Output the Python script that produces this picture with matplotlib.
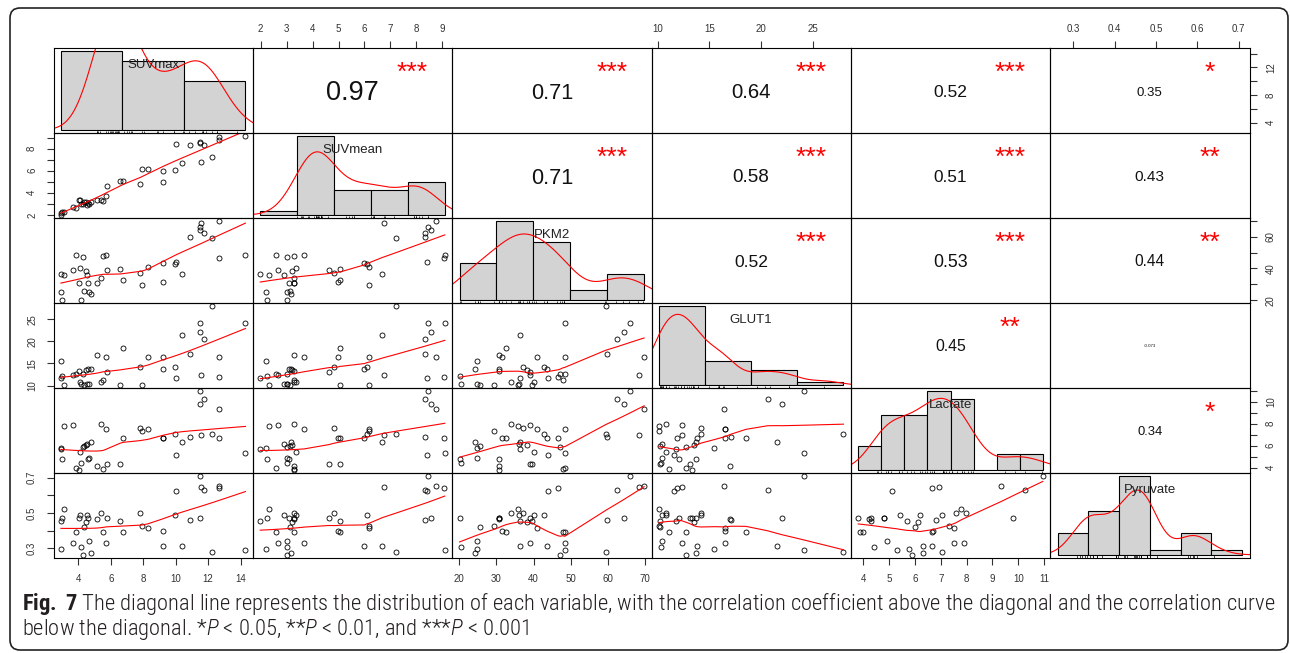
import numpy as np
import matplotlib
matplotlib.use("Agg")
import matplotlib.pyplot as plt
from matplotlib import font_manager
from matplotlib.patches import FancyBboxPatch
from matplotlib.transforms import IdentityTransform

NAMES = ["SUVmax", "SUVmean", "PKM2", "GLUT1", "Lactate", "Pyruvate"]

# one entry per sample
SUVMAX = [2.92, 2.93, 3.01, 3.14, 3.69, 3.84, 4.02, 4.10, 4.15, 4.27,
          4.37, 4.45, 4.55, 4.62, 4.68, 4.76, 5.13, 5.38, 5.52, 5.71,
          5.75, 6.59, 6.77, 7.82, 7.91, 8.28, 9.20, 9.22, 9.96, 10.00,
          10.39, 10.90, 11.48, 11.52, 11.58, 11.76, 12.26, 12.65, 12.69, 14.30]
SUVMEAN = [1.98, 2.20, 2.25, 2.30, 2.67, 2.60, 3.30, 3.37, 3.00, 3.00,
           3.13, 3.20, 2.90, 3.10, 3.00, 3.15, 3.30, 3.30, 3.27, 3.68,
           4.63, 5.06, 5.06, 4.81, 6.19, 6.19, 6.00, 4.97, 6.10, 8.43,
           6.68, 8.34, 8.46, 8.58, 6.74, 8.34, 7.23, 9.07, 8.76, 9.10]
PKM2 = [36.4, 24.9, 20.1, 35.8, 38.9, 48.4, 30.7, 40.2, 20.4, 47.2,
        25.5, 38.3, 36.0, 30.7, 24.9, 24.2, 30.7, 33.9, 47.8, 48.4,
        38.9, 39.6, 32.6, 37.1, 29.3, 40.8, 43.6, 31.4, 42.9, 43.8,
        36.4, 59.8, 65.9, 64.2, 68.4, 62.5, 59.4, 46.5, 69.7, 48.4]
GLUT1 = [11.75, 15.45, 12.1, 10.15, 12.4, 12.7, 13.3, 10.8, 10.35, 12.7,
         10.2, 13.5, 10.4, 13.7, 10.4, 13.7, 17.0, 10.8, 11.15, 16.5,
         13.1, 10.2, 18.5, 14.2, 10.13, 16.5, 13.8, 16.5, 14.2, 11.6,
         21.5, 17.1, 24.1, 22.0, 12.4, 20.6, 27.9, 11.9, 16.4, 24.1]
LACTATE = [5.68, 5.75, 4.78, 7.78, 7.9, 3.98, 3.8, 5.41, 4.4, 5.9,
           6.0, 6.1, 6.2, 4.78, 4.9, 6.3, 4.2, 7.97, 3.85, 7.5,
           4.3, 4.3, 6.67, 7.6, 7.3, 7.5, 6.67, 6.7, 7.06, 5.12,
           6.3, 6.8, 10.95, 9.8, 6.94, 10.25, 7.06, 6.67, 9.35, 5.3]
PYRUVATE = [0.452, 0.296, 0.471, 0.522, 0.327, 0.391, 0.471, 0.49, 0.305, 0.262,
            0.42, 0.45, 0.49, 0.47, 0.343, 0.273, 0.464, 0.499, 0.391, 0.327,
            0.471, 0.456, 0.391, 0.499, 0.425, 0.417, 0.315, 0.397, 0.49, 0.623,
            0.315, 0.458, 0.708, 0.47, 0.645, 0.631, 0.278, 0.639, 0.654, 0.29]

# histogram breaks seen on the diagonal
SUVMAX_BREAKS = [0, 5, 10, 15]
SUVMEAN_BREAKS = [0, 2, 4, 6, 8, 10]
PKM2_BREAKS = [20, 30, 40, 50, 60, 70]
GLUT1_BREAKS = [10, 15, 20, 25, 30]
LACTATE_BREAKS = [3, 4, 5, 6, 7, 8, 9, 10, 11]
PYRUVATE_BREAKS = [0.2, 0.3, 0.4, 0.5, 0.6, 0.7, 0.8]

SUVMAX_TICKS = [4, 6, 8, 10, 12, 14]
SUVMEAN_TICKS = [2, 3, 4, 5, 6, 7, 8, 9]
PKM2_TICKS = [20, 30, 40, 50, 60, 70]
GLUT1_TICKS = [10, 15, 20, 25]
LACTATE_TICKS = [4, 5, 6, 7, 8, 9, 10, 11]
PYRUVATE_TICKS = [0.3, 0.4, 0.5, 0.6, 0.7]
# labels R kept on the vertical axes
SUVMAX_YLABELS = [4, 8, 12]
SUVMEAN_YLABELS = [2, 4, 6, 8]
PKM2_YLABELS = [20, 40, 60]
GLUT1_YLABELS = [10, 15, 20, 25]
LACTATE_YLABELS = [4, 6, 8, 10]
PYRUVATE_YLABELS = [0.3, 0.5, 0.7]

# upper triangle, row by row
COR_VALUES = [0.97, 0.71, 0.64, 0.52, 0.35,
              0.71, 0.58, 0.51, 0.43,
              0.52, 0.53, 0.44,
              0.45, -0.073,
              0.34]
COR_STARS = ["***", "***", "***", "***", "*",
             "***", "***", "***", "**",
             "***", "***", "**",
             "**", "",
             "*"]

CAPTION_LINE1 = (r"$\mathbf{Fig.\ 7}$ The diagonal line represents the distribution of each variable, "
                 r"with the correlation coefficient above the diagonal and the correlation curve")
CAPTION_LINE2 = r"below the diagonal. *$P$ < 0.05, **$P$ < 0.01, and ***$P$ < 0.001"

available = {f.name for f in font_manager.fontManager.ttflist}
CAP_FONT = next((f for f in ["Roboto Condensed", "Liberation Sans Narrow", "Open Sans"]
                 if f in available), "DejaVu Sans")

plt.rcParams['font.family'] = ['Liberation Sans', 'DejaVu Sans']
plt.rcParams['mathtext.fontset'] = 'custom'
plt.rcParams['mathtext.rm'] = CAP_FONT
plt.rcParams['mathtext.it'] = CAP_FONT + ':italic:light'
plt.rcParams['mathtext.bf'] = CAP_FONT + ':bold'


def lowess(x, y, f=2 / 3, iters=3):
    # same steps as R's clowess (no delta shortcut)
    o = np.argsort(x, kind='stable')
    x = np.asarray(x, float)[o]
    y = np.asarray(y, float)[o]
    n = len(x)
    ns = max(min(int(f * n + 1e-7), n), 2)
    rw = np.ones(n)
    fit = np.zeros(n)
    xr = x[-1] - x[0]
    for it in range(iters + 1):
        nleft, nright = 0, ns - 1
        for i in range(n):
            while nright < n - 1 and x[i] - x[nleft] > x[nright + 1] - x[i]:
                nleft += 1
                nright += 1
            h = max(x[i] - x[nleft], x[nright] - x[i])
            d = np.abs(x - x[i])
            if h > 0:
                w = np.where(d <= 0.001 * h, 1.0, (1 - (d / h) ** 3) ** 3)
                w[d > 0.999 * h] = 0.0
            else:
                w = (d == 0).astype(float)
            w = w * rw
            if w.sum() <= 0:
                fit[i] = y[i]
                continue
            w = w / w.sum()
            if h > 0:
                a = np.sum(w * x)
                c = np.sum(w * (x - a) ** 2)
                if np.sqrt(c) > 0.001 * xr:
                    w = w * ((x[i] - a) / c * (x - a) + 1)
            fit[i] = np.sum(w * y)
        if it == iters:
            break
        res = np.abs(y - fit)
        cmad = 6 * np.median(res)
        if cmad < 1e-7 * np.mean(np.abs(y)):
            break
        u = res / cmad
        rw = np.where(u <= 0.001, 1.0, np.where(u > 0.999, 0.0, (1 - u ** 2) ** 2))
    return x, fit


def density(v):
    n = len(v)
    q75, q25 = np.percentile(v, [75, 25])
    bw = 0.9 * min(v.std(ddof=1), (q75 - q25) / 1.34) * n ** -0.2
    grid = np.linspace(v.min() - 3 * bw, v.max() + 3 * bw, 512)
    dens = np.exp(-0.5 * ((grid[:, None] - v[None, :]) / bw) ** 2).sum(1)
    return grid, dens / (n * bw * np.sqrt(2 * np.pi))


def span(v):
    d = 0.04 * (v.max() - v.min())
    return v.min() - d, v.max() + d


def fmt(t):
    return f"{t:g}"


values = [np.array(v, float) for v in (SUVMAX, SUVMEAN, PKM2, GLUT1, LACTATE, PYRUVATE)]
breaks = [SUVMAX_BREAKS, SUVMEAN_BREAKS, PKM2_BREAKS, GLUT1_BREAKS, LACTATE_BREAKS, PYRUVATE_BREAKS]
ticks = [SUVMAX_TICKS, SUVMEAN_TICKS, PKM2_TICKS, GLUT1_TICKS, LACTATE_TICKS, PYRUVATE_TICKS]
ylabeled = [SUVMAX_YLABELS, SUVMEAN_YLABELS, PKM2_YLABELS, GLUT1_YLABELS, LACTATE_YLABELS, PYRUVATE_YLABELS]

W, H = 1290, 653
fig = plt.figure(figsize=(W / 100, H / 100), dpi=100)
fig.patch.set_facecolor('white')

GX0, GX1, GY0, GY1 = 53.5, 1249.5, 48.3, 558.0
CW = (GX1 - GX0) / 6
RH = (GY1 - GY0) / 6

tick_kw = dict(direction='out', length=4.8, width=0.8, labelsize=7,
               labelcolor='#333333', color='#333333')

k = 0
for i in range(6):
    for j in range(6):
        ax = fig.add_axes([(GX0 + j * CW) / W, 1 - (GY0 + (i + 1) * RH) / H, CW / W, RH / H])
        ax.set_facecolor('none')
        for s in ax.spines.values():
            s.set_linewidth(0.8)
        ax.tick_params(which='both', bottom=False, top=False, left=False, right=False,
                       labelbottom=False, labeltop=False, labelleft=False, labelright=False)

        if i == j:
            v = values[i]
            b = np.array(breaks[i], float)
            idx = np.clip(np.searchsorted(b, v, side='left') - 1, 0, len(b) - 2)
            counts = np.bincount(idx, minlength=len(b) - 1)
            dens = counts / (len(v) * np.diff(b))
            ax.bar(b[:-1], dens, width=np.diff(b), align='edge', color='#D3D3D3',
                   edgecolor='black', linewidth=0.8)
            gx, gy = density(v)
            ax.plot(gx, gy, color='red', lw=0.8)
            ax.vlines(v, 0, 0.03, transform=ax.get_xaxis_transform(), colors='black', lw=0.5)
            pad = 0.04 * (b[-1] - b[0])
            ax.set_xlim(b[0] - pad, b[-1] + pad)
            ax.set_ylim(-0.04 * dens.max(), 1.04 * dens.max())
            ax.text(0.5, 0.80, NAMES[i], transform=ax.transAxes, ha='center', va='center',
                    fontsize=9.5, color='#222222')
        else:
            ax.set_xlim(span(values[j]))
            ax.set_ylim(span(values[i]))
            if i > j:
                ax.plot(values[j], values[i], 'o', mfc='none', mec='black', ms=3.6, mew=0.6)
                lx, ly = lowess(values[j], values[i])
                ax.plot(lx, ly, color='red', lw=0.8)
            else:
                r = COR_VALUES[k]
                fs = 19.5 * (abs(r) / 0.97) ** 0.7
                cap = 0.716 * fs * 100 / 72 / RH
                ax.text(0.5, 0.5 - cap / 2, format(r, '.2g'), transform=ax.transAxes,
                        ha='center', va='baseline', fontsize=fs, color='#111111')
                ax.text(0.8, 0.63, COR_STARS[k], transform=ax.transAxes, ha='center',
                        va='baseline', fontsize=19, color='red')
                k += 1

        if (i == 0 and j % 2 == 1) or (i == 5 and j % 2 == 0):
            ax.set_xticks(ticks[j])
            ax.set_xticklabels([fmt(t) for t in ticks[j]])
            if i == 0:
                ax.tick_params(axis='x', top=True, labeltop=True, pad=5.5, **tick_kw)
            else:
                ax.tick_params(axis='x', bottom=True, labelbottom=True, pad=6.5, **tick_kw)
        if (j == 0 and i % 2 == 1) or (j == 5 and i % 2 == 0):
            ax.set_yticks(ticks[i])
            ax.set_yticklabels([fmt(t) if t in ylabeled[i] else '' for t in ticks[i]])
            if j == 0:
                ax.tick_params(axis='y', left=True, labelleft=True, labelrotation=90,
                               pad=7, **tick_kw)
            else:
                ax.tick_params(axis='y', right=True, labelright=True, labelrotation=90,
                               pad=7, **tick_kw)
            for lab in ax.get_yticklabels():
                lab.set_verticalalignment('center')

# journal frame
fig.add_artist(FancyBboxPatch((10, H - 650), 1278, 642, boxstyle="round,pad=0,rounding_size=10",
                              transform=IdentityTransform(), fill=False, lw=1.2,
                              edgecolor='#222222'))

renderer = fig.canvas.get_renderer()
cap1 = fig.text(22 / W, 1 - 610 / H, CAPTION_LINE1, family=CAP_FONT, fontweight='light',
                fontsize=12, ha='left', va='baseline', color='#231F20')
width = cap1.get_window_extent(renderer).width
cap_fs = 12 * 1248 / width
cap1.set_fontsize(cap_fs)
fig.text(22 / W, 1 - 635 / H, CAPTION_LINE2, family=CAP_FONT, fontweight='light',
         fontsize=cap_fs, ha='left', va='baseline', color='#231F20')

fig.savefig('out.png', dpi=100, facecolor='white')
